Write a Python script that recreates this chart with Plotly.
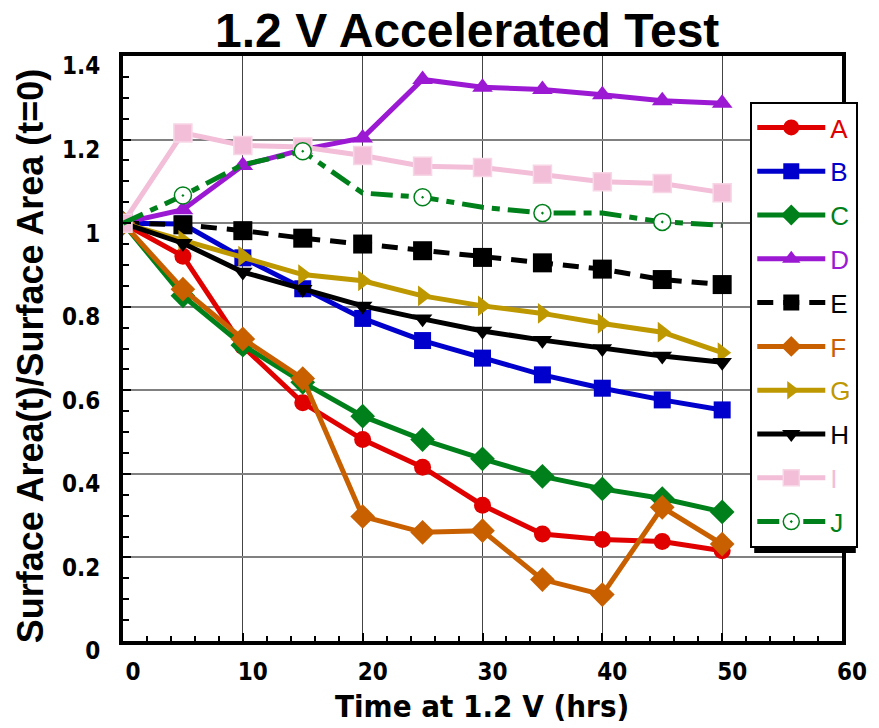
import plotly.graph_objects as go

hours = [0, 5, 10, 15, 20, 25, 30, 35, 40, 45, 50]

A = [1.0, 0.921, 0.705, 0.570, 0.482, 0.416, 0.325, 0.256, 0.243, 0.238, 0.216]
B = [1.0, 0.998, 0.917, 0.843, 0.772, 0.719, 0.677, 0.637, 0.605, 0.577, 0.553]
C = [1.0, 0.826, 0.708, 0.619, 0.538, 0.482, 0.436, 0.394, 0.364, 0.341, 0.309]
D = [1.0, 1.032, 1.138, 1.176, 1.204, 1.344, 1.325, 1.320, 1.307, 1.293, 1.287]
E = [1.0, 0.996, 0.982, 0.964, 0.950, 0.934, 0.918, 0.905, 0.890, 0.865, 0.853]
F = [1.0, 0.842, 0.723, 0.628, 0.298, 0.260, 0.264, 0.147, 0.111, 0.320, 0.232]
G = [1.0, 0.959, 0.921, 0.877, 0.862, 0.826, 0.802, 0.784, 0.760, 0.739, 0.690]
H = [1.0, 0.952, 0.883, 0.842, 0.802, 0.771, 0.742, 0.720, 0.700, 0.682, 0.667]
I = [1.0, 1.216, 1.186, 1.182, 1.162, 1.136, 1.133, 1.117, 1.099, 1.095, 1.073]
J = [1.0, 1.066, 1.140, 1.172, 1.072, 1.062, 1.038, 1.024, 1.024, 1.003, 0.995]

names = ["A", "B", "C", "D", "E", "F", "G", "H", "I", "J"]
series = [A, B, C, D, E, F, G, H, I, J]
colors = ["#E00000", "#0000CC", "#00801A", "#9B19D2", "#000000",
          "#C86000", "#BE9800", "#000000", "#F2BED8", "#00801A"]
symbols = ["circle", "square", "diamond", "triangle-up", "square",
           "diamond", "triangle-right", "triangle-down", "square", "circle-dot"]
sizes = [17, 17, 19, 18, 19, 19, 18, 17, 18, 17]
dashes = ["solid", "solid", "solid", "solid", "16px,10px",
          "solid", "solid", "solid", "solid", "22px,8px,8px,8px"]

x_ticks = [0, 10, 20, 30, 40, 50, 60]
y_ticks = [0, 0.2, 0.4, 0.6, 0.8, 1.0, 1.2, 1.4]
y_labels = ["0", "0.2", "0.4", "0.6", "0.8", "1", "1.2", "1.4"]

fig = go.Figure()
for nm, ys, col, sym, sz, dsh in zip(names, series, colors, symbols, sizes, dashes):
    extra = {}
    if nm == "J":
        marker = dict(symbol=sym, size=sz, color="white",
                      line=dict(color=col, width=1.5))
        extra = dict(selectedpoints=[i for i, h in enumerate(hours) if h % 10 == 5],
                     selected=dict(marker=dict(opacity=1)),
                     unselected=dict(marker=dict(opacity=0)))
    elif nm == "I":
        marker = dict(symbol=sym, size=sz, color=col,
                      line=dict(color="#F7D6E6", width=1.5))
    else:
        marker = dict(symbol=sym, size=sz, color=col)
    fig.add_trace(go.Scatter(
        x=hours, y=ys, mode="lines+markers",
        name=f"<span style='color:{col}'>{nm}</span>",
        legendgroup=nm,
        line=dict(color=col, width=5, dash=dsh),
        marker=marker, **extra,
    ))


def px_x(p):
    return (p - 123) / 729.0


def px_y(p):
    return (641 - p) / 585.0


# legend shadow (offset black box behind legend)
fig.add_shape(type="rect", xref="paper", yref="paper",
              x0=px_x(763), x1=px_x(866), y0=px_y(553), y1=px_y(106),
              fillcolor="black", line=dict(width=0), layer="above")

tick_font = dict(family="DejaVu Sans Condensed", size=24, color="black",
                 weight="bold")

fig.add_annotation(text="<b>Surface Area(t)/Surface Area (t=0)</b>",
                   xref="paper", yref="paper", x=px_x(29), y=px_y(356),
                   xanchor="center", yanchor="middle", textangle=-90,
                   showarrow=False,
                   font=dict(family="Liberation Sans", size=36, color="black"))
fig.add_annotation(text="Time at 1.2 V (hrs)",
                   xref="paper", yref="paper", x=px_x(487), y=px_y(706),
                   xanchor="center", yanchor="middle", showarrow=False,
                   font=dict(family="DejaVu Sans Condensed", size=31,
                             color="black", weight="bold"))

fig.update_layout(
    width=879, height=728,
    margin=dict(l=123, r=27, t=56, b=87),
    paper_bgcolor="white", plot_bgcolor="white",
    title=dict(text="<b>1.2 V Accelerated Test</b>",
               font=dict(family="Liberation Sans", size=48, color="black"),
               x=px_x(472), xref="paper", xanchor="center",
               y=1 - 30 / 728.0, yref="container", yanchor="middle"),
    showlegend=True,
    legend=dict(x=px_x(759), y=px_y(102), xanchor="left", yanchor="top",
                bgcolor="white", bordercolor="black", borderwidth=2,
                font=dict(family="Liberation Sans", size=26, color="black"),
                itemsizing="trace", itemwidth=68, tracegroupgap=7,
                traceorder="grouped"),
    xaxis=dict(
        range=[0, 60], tickvals=x_ticks, ticktext=[str(v) for v in x_ticks],
        showgrid=True, gridcolor="#444444", gridwidth=1,
        showline=True, linecolor="black", linewidth=4, mirror=True,
        ticks="inside", ticklen=8, tickwidth=2, tickcolor="black",
        minor=dict(dtick=2, ticks="inside", ticklen=5, tickwidth=2,
                   tickcolor="black", showgrid=False),
        tickfont=tick_font, ticklabelstandoff=6, ticklabelshift=10,
        zeroline=False,
    ),
    yaxis=dict(
        range=[0, 1.4], tickvals=y_ticks, ticktext=y_labels,
        showgrid=True, gridcolor="#808080", gridwidth=1.5,
        showline=True, linecolor="black", linewidth=4, mirror=True,
        ticks="inside", ticklen=8, tickwidth=2, tickcolor="black",
        minor=dict(dtick=0.05, ticks="inside", ticklen=6, tickwidth=2,
                   tickcolor="black", showgrid=False),
        tickfont=tick_font, ticklabelstandoff=14, ticklabelshift=10,
        zeroline=False,
    ),
)

fig.write_html("out.html")
